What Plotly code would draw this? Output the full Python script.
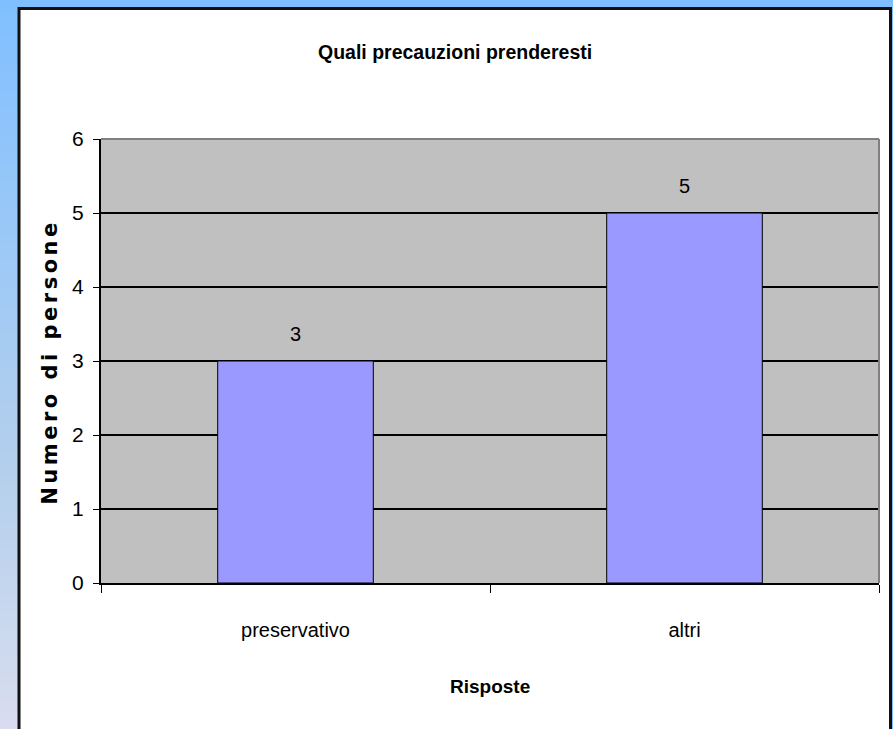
import plotly.graph_objects as go

categories = ["preservativo", "altri"]
values = [3, 5]
y_ticks = [0, 1, 2, 3, 4, 5, 6]

title_text = "Quali precauzioni prenderesti"
x_title = "Risposte"
y_title = "Numero di persone"

W, H = 893, 729
L, R, T, B = 101, 14, 139, 146
PW, PH = W - L - R, H - T - B

def xp(px):
    return (px - L) / PW

def yp(py):
    return (H - B - py) / PH

NARROW = "Liberation Sans Narrow, Arial Narrow, Liberation Sans, Arial, sans-serif"
WIDE = "DejaVu Sans, Verdana, sans-serif"

fig = go.Figure()
fig.add_trace(go.Bar(
    x=categories, y=values, width=0.4,
    marker=dict(color="#9999FF", line=dict(color="black", width=1)),
    hoverinfo="skip",
))

shapes = []
stops = [(0, (128, 191, 255)), (270, (159, 202, 245)), (470, (180, 207, 236)),
         (620, (200, 216, 238)), (729, (218, 220, 240))]

def col(py):
    for (a, ca), (b, cb) in zip(stops[:-1], stops[1:]):
        if a <= py <= b:
            t = (py - a) / (b - a)
            c = [round(ca[i] + (cb[i] - ca[i]) * t) for i in range(3)]
            return "rgb(%d,%d,%d)" % tuple(c)
    return "rgb(218,220,240)"

step = 9
for py in range(0, H, step):
    shapes.append(dict(type="rect", xref="paper", yref="paper", layer="below",
                       x0=xp(0), x1=xp(20), y0=yp(py + step + 0.5), y1=yp(py),
                       line=dict(width=0), fillcolor=col(py + step / 2)))
shapes.append(dict(type="rect", xref="paper", yref="paper", layer="below",
                   x0=xp(0), x1=xp(W), y0=yp(9), y1=yp(0),
                   line=dict(width=0), fillcolor="rgb(128,191,255)"))
shapes.append(dict(type="rect", xref="paper", yref="paper", layer="below",
                   x0=xp(891), x1=xp(W), y0=yp(H), y1=yp(0),
                   line=dict(width=0), fillcolor="rgb(128,191,255)"))
# white chart area with dark border
shapes.append(dict(type="rect", xref="paper", yref="paper", layer="below",
                   x0=xp(19), x1=xp(890.5), y0=yp(H + 10), y1=yp(8.5),
                   line=dict(color="#111111", width=3), fillcolor="white"))
# gray plot area
shapes.append(dict(type="rect", xref="paper", yref="paper", layer="below",
                   x0=0, x1=1, y0=0, y1=1,
                   line=dict(width=0), fillcolor="#C0C0C0"))
# gray top and right border of plot area
shapes.append(dict(type="line", xref="paper", yref="paper",
                   x0=0, x1=1, y0=1, y1=1, line=dict(color="#808080", width=2)))
shapes.append(dict(type="line", xref="paper", yref="paper",
                   x0=1, x1=1, y0=0, y1=1, line=dict(color="#808080", width=2)))

annotations = []
for c, v in zip(categories, values):
    annotations.append(dict(x=c, y=v, xref="x", yref="y", text=str(v),
                            showarrow=False, yshift=27, xanchor="center", yanchor="middle",
                            font=dict(family=NARROW, size=20, color="black")))
annotations.append(dict(x=xp(50), y=yp(362), xref="paper", yref="paper",
                        text="<b>%s</b>" % y_title, textangle=-90, showarrow=False,
                        xanchor="center", yanchor="middle",
                        font=dict(family=WIDE, size=21, color="black")))
annotations.append(dict(x=xp(490), y=yp(686), xref="paper", yref="paper",
                        text="<b>%s</b>" % x_title, showarrow=False,
                        xanchor="center", yanchor="middle",
                        font=dict(family=NARROW, size=19, color="black")))
annotations.append(dict(x=xp(455), y=yp(52), xref="paper", yref="paper",
                        text="<b>%s</b>" % title_text, showarrow=False,
                        xanchor="center", yanchor="middle",
                        font=dict(family=NARROW, size=19.5, color="black")))

fig.update_layout(
    width=W, height=H,
    margin=dict(l=L, r=R, t=T, b=B, pad=0),
    paper_bgcolor="white",
    plot_bgcolor="#C0C0C0",
    showlegend=False,
    bargap=0.6,
    shapes=shapes,
    annotations=annotations,
    xaxis=dict(
        type="category", tickson="boundaries", ticks="outside", ticklen=8,
        tickcolor="black", tickwidth=1, showline=True, linecolor="black",
        linewidth=2, showgrid=False, ticklabelstandoff=28,
        tickfont=dict(family=NARROW, size=20, color="black"),
    ),
    yaxis=dict(
        range=[0, 6], tickvals=y_ticks, ticks="outside", ticklen=6,
        tickcolor="black", tickwidth=1, showline=True, linecolor="black",
        linewidth=2, showgrid=True, gridcolor="black", gridwidth=1.5,
        zeroline=False, ticklabelstandoff=5,
        tickfont=dict(family=NARROW, size=21, color="black"),
    ),
)

post = """
document.body.style.margin = '0';
document.body.style.overflow = 'hidden';
var ts = document.querySelectorAll('.annotation-text');
ts.forEach(function(t){
  if (t.textContent.indexOf('Numero') === 0) { t.style.letterSpacing = '3.5px'; }
});
"""
fig.write_html("out.html", post_script=post, config={"displayModeBar": False})
